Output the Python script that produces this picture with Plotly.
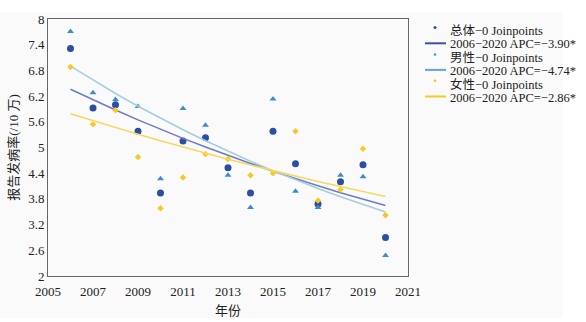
import plotly.graph_objects as go
import numpy as np

years = list(range(2006, 2021))
total = [7.31, 5.92, 6.00, 5.38, 3.94, 5.15, 5.23, 4.53, 3.94, 5.38, 4.62, 3.68, 4.20, 4.60, 2.90]
male = [7.71, 6.28, 6.12, 5.96, 4.27, 5.91, 5.52, 4.35, 3.60, 6.13, 3.98, 3.60, 4.35, 4.32, 2.48]
female = [6.88, 5.54, 5.87, 4.78, 3.58, 4.30, 4.85, 4.73, 4.35, 4.40, 5.38, 3.76, 4.02, 4.97, 3.42]

# Joinpoint model (0 joinpoints): fitted value at 2006 and APC
fit_start = {"total": 6.36, "male": 6.90, "female": 5.79}
apc = {"total": -3.90, "male": -4.74, "female": -2.86}

keys = ["total", "male", "female"]
names = {"total": "总体", "male": "男性", "female": "女性"}
data = {"total": total, "male": male, "female": female}
marker_color = {"total": "#2b4ea2", "male": "#3a8dc6", "female": "#f7c928"}
line_color = {"total": "#6e7dc4", "male": "#a6cde0", "female": "#f6da60"}
legend_line_color = {"total": "#3d50a6", "male": "#62a4d2", "female": "#f7ca20"}
marker_sym = {"total": "circle", "male": "triangle-up", "female": "diamond"}
marker_size = {"total": 7, "male": 6, "female": 5}

# plot area in pixels
L, R, T, B = 48, 408, 19, 276
W, H = 586, 322
def px(x):
    return (x - L) / (R - L)
def py(y):
    return (B - y) / (B - T)

yrs = np.array(years)
fig = go.Figure()
for k in keys:
    fig.add_trace(go.Scatter(
        x=years, y=data[k], mode="markers",
        marker=dict(symbol=marker_sym[k], size=marker_size[k], color=marker_color[k]),
        name=f"{names[k]}−0 Joinpoints", showlegend=False))
    fit = fit_start[k] * (1 + apc[k] / 100) ** (yrs - 2006)
    fig.add_trace(go.Scatter(
        x=years, y=fit, mode="lines",
        line=dict(color=line_color[k], width=1.6),
        name=f"2006−2020 APC={apc[k]:.2f}*".replace("-", "−"), showlegend=False))

font_family = "Liberation Serif, Times New Roman, Noto Sans CJK SC, serif"

shapes = [
    # light grey page background (white margin on top and right)
    dict(type="rect", xref="paper", yref="paper", layer="below",
         x0=px(0), x1=px(563), y0=py(318), y1=py(12),
         fillcolor="#fafafa", line=dict(width=0)),
]
annotations = []
step = 13.3
for i, k in enumerate(keys):
    y1 = 31 + 2 * i * step
    y2 = y1 + step
    my = y1 - 3.5
    # marker symbol
    if k == "total":
        shapes.append(dict(type="circle", xref="paper", yref="paper",
                           x0=px(433.5), x1=px(436.5), y0=py(my + 1.5), y1=py(my - 1.5),
                           fillcolor=marker_color[k], line=dict(width=0)))
    elif k == "male":
        shapes.append(dict(type="path", xref="paper", yref="paper",
                           path=f"M {px(433.4)} {py(my + 1.4)} L {px(436.6)} {py(my + 1.4)} L {px(435)} {py(my - 1.6)} Z",
                           fillcolor=marker_color[k], line=dict(width=0)))
    else:
        shapes.append(dict(type="path", xref="paper", yref="paper",
                           path=f"M {px(435)} {py(my - 1.7)} L {px(436.7)} {py(my)} L {px(435)} {py(my + 1.7)} L {px(433.3)} {py(my)} Z",
                           fillcolor=marker_color[k], line=dict(width=0)))
    # line symbol
    shapes.append(dict(type="line", xref="paper", yref="paper",
                       x0=px(425), x1=px(446), y0=py(y2 - 1), y1=py(y2 - 1),
                       line=dict(color=legend_line_color[k], width=2)))
    annotations.append(dict(xref="paper", yref="paper", x=px(449), y=py(y1),
                            xanchor="left", yanchor="middle", showarrow=False,
                            text=f"{names[k]}−0 Joinpoints", borderpad=0,
                            font=dict(size=12.5, family=font_family, color="#222")))
    annotations.append(dict(xref="paper", yref="paper", x=px(449), y=py(y2),
                            xanchor="left", yanchor="middle", showarrow=False,
                            text=f"2006−2020 APC={apc[k]:.2f}*".replace("-", "−"), borderpad=0,
                            font=dict(size=12.5, family=font_family, color="#222")))

fig.update_layout(
    width=W, height=H,
    margin=dict(l=L, r=W - R, t=T, b=H - B),
    paper_bgcolor="#ffffff", plot_bgcolor="#fafafa",
    font=dict(family=font_family, size=13, color="#222"),
    showlegend=False,
    shapes=shapes, annotations=annotations,
    xaxis=dict(range=[2005, 2021], tickvals=list(range(2005, 2022, 2)),
               showgrid=False, zeroline=False, showline=True, linecolor="#666",
               linewidth=1, mirror=True, ticks="", ticklabelstandoff=3, automargin=False,
               title=dict(text="年份", font=dict(size=13), standoff=8)),
    yaxis=dict(range=[2, 8], tickvals=[2, 2.6, 3.2, 3.8, 4.4, 5, 5.6, 6.2, 6.8, 7.4, 8],
               showgrid=False, zeroline=False, showline=True, linecolor="#666",
               linewidth=1, mirror=True, ticks="", automargin=False,
               title=dict(text="报告发病率(/10 万)", font=dict(size=13), standoff=6)),
)
fig.write_html("out.html")
